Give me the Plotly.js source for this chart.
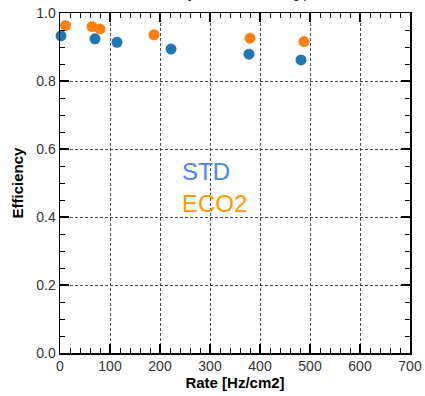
<!DOCTYPE html>
<html>
<head>
<meta charset="utf-8">
<script src="https://cdn.plot.ly/plotly-3.0.1.min.js"></script>
<style>html,body{margin:0;padding:0;background:#fff;}#chart{width:425px;height:396px;}</style>
</head>
<body>
<div id="chart"></div>
<script>
// Data
const stdRate = [2, 70, 114, 222, 378, 482];
const stdEff  = [0.933, 0.924, 0.914, 0.894, 0.879, 0.862];
const ecoRate = [11, 64, 80, 188, 380, 488];
const ecoEff  = [0.963, 0.960, 0.953, 0.936, 0.926, 0.916];
const seriesNames = ["STD", "ECO2"];
const xTicks = [0, 100, 200, 300, 400, 500, 600, 700];
const yTicks = [0.0, 0.2, 0.4, 0.6, 0.8, 1.0];
const chartTitle = "Efficiency vs rate at working point";

const traces = [
  {x: stdRate, y: stdEff, name: seriesNames[0], mode: "markers", type: "scatter",
   marker: {color: "#1f77b4", size: 11}, cliponaxis: false},
  {x: ecoRate, y: ecoEff, name: seriesNames[1], mode: "markers", type: "scatter",
   marker: {color: "#ff7f0e", size: 11}, cliponaxis: false}
];

const FONT = "Liberation Sans, Arial, sans-serif";
const axisCommon = {
  showline: true, linecolor: "#000", linewidth: 1.5, mirror: "allticks",
  ticks: "inside", ticklen: 9, tickwidth: 1.2, tickcolor: "#000",
  showgrid: true, gridcolor: "#222", gridwidth: 0.8, griddash: "3px,2px",
  zeroline: false,
  tickfont: {family: FONT, size: 14, color: "#333"}
};

const layout = {
  width: 425, height: 396,
  margin: {l: 60, r: 15, t: 13, b: 43},
  paper_bgcolor: "#fff", plot_bgcolor: "#fff",
  showlegend: false,
  xaxis: Object.assign({}, axisCommon, {
    range: [0, 700], tickvals: xTicks, ticktext: xTicks.map(String),
    minor: {dtick: 20, ticklen: 5, tickwidth: 1, tickcolor: "#000", ticks: "inside", showgrid: false},
    title: {text: "<b>Rate [Hz/cm2]</b>", standoff: 4,
            font: {family: FONT, size: 15, color: "#000"}}
  }),
  yaxis: Object.assign({}, axisCommon, {
    range: [0, 1], tickvals: yTicks, ticktext: yTicks.map(v => v.toFixed(1)),
    minor: {dtick: 0.05, ticklen: 5, tickwidth: 1, tickcolor: "#000", ticks: "inside", showgrid: false},
    title: {text: "<b>Efficiency</b>", standoff: 9,
            font: {family: FONT, size: 15, color: "#000"}}
  }),
  annotations: [
    {text: chartTitle, xref: "paper", yref: "paper", x: 0.5, y: 1, xanchor: "center", yanchor: "bottom",
     yshift: 10, showarrow: false, font: {family: FONT, size: 13, color: "#000"}},
    {text: seriesNames[0], xref: "x", yref: "y", x: 240, y: 0.535, xanchor: "left", yanchor: "middle",
     showarrow: false, font: {family: FONT, size: 24, color: "#4a86e8"}},
    {text: seriesNames[1], xref: "x", yref: "y", x: 240, y: 0.441, xanchor: "left", yanchor: "middle",
     showarrow: false, font: {family: FONT, size: 24, color: "#ff9900"}}
  ]
};

Plotly.newPlot("chart", traces, layout, {displayModeBar: false, staticPlot: true});
</script>
</body>
</html>
